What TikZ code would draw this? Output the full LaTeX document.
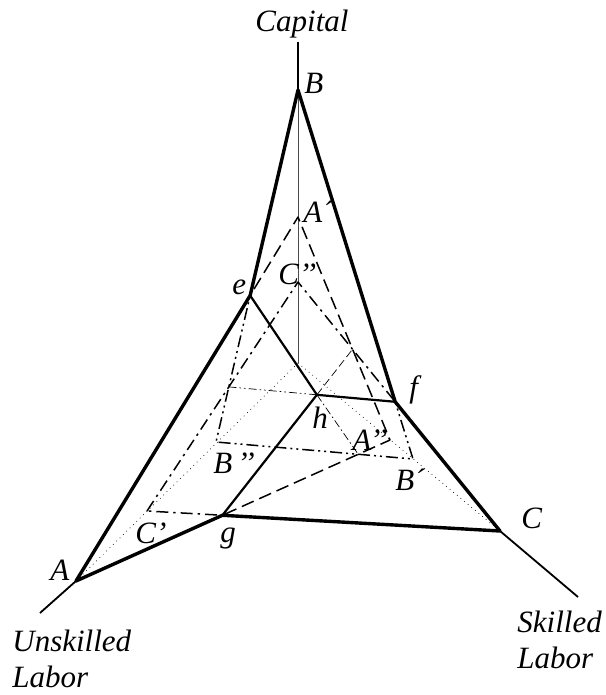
\documentclass[tikz,border=0pt]{standalone}
\usepackage{fontspec}
\setmainfont{Liberation Serif}

\begin{document}
\begin{tikzpicture}[x=0.5pt, y=-0.5pt, line join=round,
  axis/.style={line width=0.9pt},
  rim/.style={line width=1.7pt},
  ridge/.style={line width=1.1pt},
  planeA/.style={line width=0.75pt, dash pattern=on 6.5pt off 3pt},
  planeB/.style={line width=0.75pt, dash pattern=on 6pt off 2pt on 1pt off 2pt on 1pt off 2pt},
  planeC/.style={line width=0.75pt, dash pattern=on 6pt off 2.5pt on 1.2pt off 2.5pt},
  guide/.style={line width=0.35pt},
  lbl/.style={font=\itshape\fontsize{15.5}{18}\selectfont, inner sep=0pt}]
\useasboundingbox (0,0) rectangle (605,695);
% corner points on the three axes
\coordinate (O) at (298,363);
\coordinate (A) at (76,581);
\coordinate (B) at (298,90);
\coordinate (C) at (500,531);
\coordinate (A1) at (298,217);
\coordinate (A2) at (390,440);
\coordinate (B1) at (413,459);
\coordinate (B2) at (216,442);
\coordinate (C1) at (147,511);
\coordinate (C2) at (298,282);
\coordinate (KT) at (298,42);
\coordinate (UL) at (40,613);
\coordinate (SL) at (578,597);
% where the planes cut one another
\coordinate (e) at (intersection of A--A1 and B--B2);
\coordinate (f) at (intersection of B--B1 and C2--C);
\coordinate (g) at (intersection of A--A2 and C1--C);
\coordinate (p) at (intersection of B--B2 and C1--C2);
\coordinate (q) at (intersection of A1--A2 and C2--C);
\coordinate (r) at (intersection of A--A2 and B2--B1);
\coordinate (h) at (intersection of f--p and g--q);
% axes inside the cone
\draw[guide, black!70] (O) -- (B);
\draw[guide, dotted] (O) -- (A);
\draw[guide, dotted] (O) -- (C);
% the three planes
\draw[planeA] (A) -- (A1) -- (A2) -- cycle;
\draw[planeB] (B) -- (B2) -- (B1) -- cycle;
\draw[planeC] (C1) -- (C2) -- (C) -- cycle;
% hidden parts of the ridges
\draw[guide, dash pattern=on 4pt off 1.5pt on 0.8pt off 1.5pt on 0.8pt off 1.5pt] (h) -- (p);
\draw[guide, dash pattern=on 4pt off 2pt] (h) -- (q);
\draw[guide, dash pattern=on 4pt off 1.5pt on 0.8pt off 1.5pt] (h) -- (r);
% ridges and rim
\draw[ridge] (e) -- (h) -- (f);
\draw[ridge] (h) -- (g);
\draw[rim] (A) -- (e) -- (B) -- (f) -- (C) -- (g) -- cycle;
\draw[axis] (B) -- (KT);
\draw[axis] (A) -- (UL);
\draw[axis] (C) -- (SL);
% labels
\node[lbl, anchor=base] (capital) at (302,32) {Capital};
\node[lbl, anchor=north west, align=left] (unskilled) at (12,630) {Unskilled\\Labor};
\node[lbl, anchor=north west, align=left] (skilled) at (517,611) {Skilled\\Labor};
\node[lbl, anchor=base west] (lB) at (304,94) {B};
\node[lbl, anchor=base west] (lA1) at (303,222) {A´};
\node[lbl, anchor=base west] (lC2) at (278,284) {C’’};
\node[lbl, anchor=base west] (le) at (232,294) {e};
\node[lbl, anchor=base west] (lf) at (409,397) {f};
\node[lbl, anchor=base west] (lh) at (312,428) {h};
\node[lbl, anchor=base west] (lA2) at (352,450) {A’’};
\node[lbl, anchor=base west] (lB2) at (213,473) {B\,’’};
\node[lbl, anchor=base west] (lB1) at (395,490) {B´};
\node[lbl, anchor=base west] (lC1) at (135,543) {C’};
\node[lbl, anchor=base west] (lg) at (220,542) {g};
\node[lbl, anchor=base west] (lA) at (50,580) {A};
\node[lbl, anchor=base west] (lC) at (521,528) {C};
\end{tikzpicture}
\end{document}
